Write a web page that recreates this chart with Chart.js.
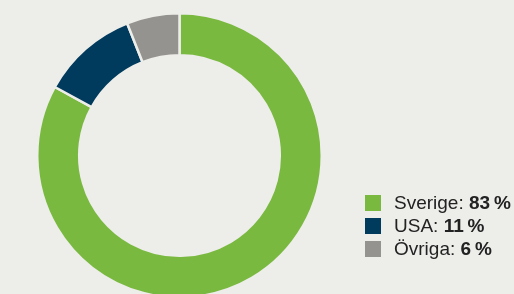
<!DOCTYPE html>
<html>
<head>
<meta charset="utf-8">
<script src="https://cdn.jsdelivr.net/npm/chart.js@4/dist/chart.umd.min.js"></script>
<style>
  html, body { margin: 0; padding: 0; background: #ededea; overflow: hidden; width: 514px; height: 294px; }
  #wrap { position: relative; width: 514px; height: 294px; }
  #chart { position: absolute; left: 0; top: 0; }
  #legend { position: absolute; left: 365px; top: 195px; font-family: "Liberation Sans", Arial, sans-serif; font-size: 19px; color: #222; }
  .row { height: 23px; position: relative; white-space: nowrap; }
  .box { position: absolute; left: 0; top: 0; width: 16px; height: 16px; }
  .txt { position: absolute; left: 29px; top: -3px; line-height: 22px; }
  .txt b { font-weight: bold; }
</style>
</head>
<body>
<div id="wrap">
  <canvas id="chart" width="514" height="300"></canvas>
  <div id="legend"></div>
</div>
<script>
// Data
var labels = ['Sverige', 'USA', 'Övriga'];
var values = [83, 11, 6];
var colors = ['#7ab93f', '#003a5d', '#95938f'];

var bg = '#ededea';

var ctx = document.getElementById('chart');
var chart = new Chart(ctx, {
    type: 'doughnut',
    data: {
        labels: labels,
        datasets: [{
            data: values,
            backgroundColor: colors,
            borderColor: bg,
            borderWidth: 2.5,
            hoverOffset: 0
        }]
    },
    options: {
        responsive: false,
        animation: false,
        cutout: '70.5%',
        layout: {
            padding: { left: 36, top: 12, right: 191, bottom: 1 }
        },
        plugins: {
            legend: { display: false },
            tooltip: { enabled: false }
        }
    }
});

// legend in HTML so the value can be bold
var legendEl = document.getElementById('legend');
labels.forEach(function(lbl, i) {
    var row = document.createElement('div');
    row.className = 'row';
    var box = document.createElement('span');
    box.className = 'box';
    box.style.backgroundColor = colors[i];
    var txt = document.createElement('span');
    txt.className = 'txt';
    txt.innerHTML = lbl + ': <b>' + values[i] + '\u2009%</b>';
    row.appendChild(box);
    row.appendChild(txt);
    legendEl.appendChild(row);
});
</script>
</body>
</html>
